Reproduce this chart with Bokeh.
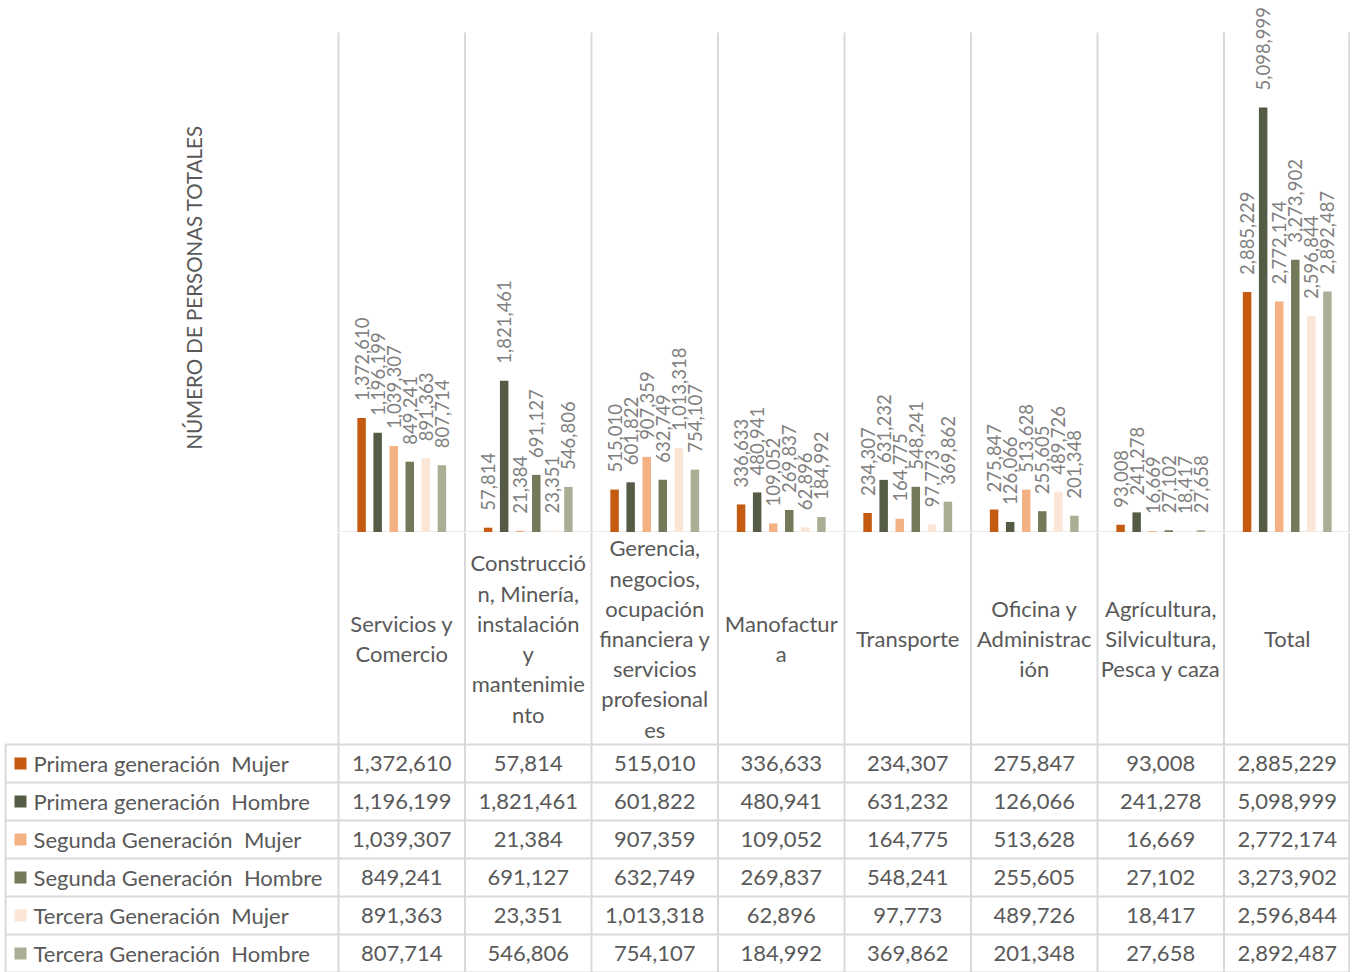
import math
from bokeh.plotting import figure
from bokeh.layouts import column
from bokeh.models import Range1d, ColumnDataSource, Label
from bokeh.core.properties import value
from bokeh.embed import file_html
from bokeh.resources import INLINE

# ---------------- data ----------------
categories = [
    "Servicios y\nComercio",
    "Construcció\nn, Minería,\ninstalación\ny\nmantenimie\nnto",
    "Gerencia,\nnegocios,\nocupación\nfinanciera y\nservicios\nprofesional\nes",
    "Manofactur\na",
    "Transporte",
    "Oficina y\nAdministrac\nión",
    "Agrícultura,\nSilvicultura,\nPesca y caza",
    "Total",
]
series_names = [
    "Primera generación \u00a0Mujer",
    "Primera generación \u00a0Hombre",
    "Segunda Generación \u00a0Mujer",
    "Segunda Generación \u00a0Hombre",
    "Tercera Generación \u00a0Mujer",
    "Tercera Generación \u00a0Hombre",
]
primera_mujer = [1372610, 57814, 515010, 336633, 234307, 275847, 93008, 2885229]
primera_hombre = [1196199, 1821461, 601822, 480941, 631232, 126066, 241278, 5098999]
segunda_mujer = [1039307, 21384, 907359, 109052, 164775, 513628, 16669, 2772174]
segunda_hombre = [849241, 691127, 632749, 269837, 548241, 255605, 27102, 3273902]
tercera_mujer = [891363, 23351, 1013318, 62896, 97773, 489726, 18417, 2596844]
tercera_hombre = [807714, 546806, 754107, 184992, 369862, 201348, 27658, 2892487]
series_values = [primera_mujer, primera_hombre, segunda_mujer,
                 segunda_hombre, tercera_mujer, tercera_hombre]
colors = ["#c55a11", "#555c45", "#f4b183", "#737a5a", "#fbe5d6", "#a9af94"]
y_title = "NÚMERO DE PERSONAS TOTALES"

# ---------------- layout constants ----------------
W = 1350
H1 = 532
H2 = 440
FONT = value("Lato")
GRID = "#d9d9d9"
TXT = "#595959"
LBL = "#808080"
n_cat = len(categories)
x_left = -338 / 126.5    # left edge of the canvas in column units
y_max = 6.383e6          # top of chart canvas in value units
sep_top = 6.0e6          # where column separators start
pitch = 0.127
bar_w = 0.067
lbl_off = 0.204e6

# ---------------- chart figure ----------------
p1 = figure(width=W, height=H1, output_backend="svg", toolbar_location=None,
            x_range=Range1d(x_left, n_cat), y_range=Range1d(0, y_max),
            x_axis_location=None, y_axis_location=None, min_border=0)
p1.outline_line_color = None
p1.grid.visible = False

vx1 = list(range(n_cat)) + [n_cat - 0.01]
p1.segment(x0=vx1, y0=[0] * len(vx1), x1=vx1, y1=[sep_top] * len(vx1),
           line_color=GRID, line_width=2)
p1.segment(x0=[0], y0=[0], x1=[n_cat], y1=[0], line_color=GRID, line_width=2)

for i, (vals, col) in enumerate(zip(series_values, colors)):
    xs = [c + 0.5 + (i - 2.5) * pitch for c in range(n_cat)]
    src = ColumnDataSource(dict(x=xs, top=vals,
                                ly=[v + lbl_off for v in vals],
                                txt=[f"{v:,}" for v in vals]))
    p1.vbar(x="x", top="top", bottom=0, width=bar_w, source=src,
            fill_color=col, line_color=None)
    p1.text(x="x", y="ly", text="txt", source=src, angle=math.pi / 2,
            text_align="left", text_baseline="middle", text_font=FONT,
            text_font_size="18.5px", text_color=LBL)

p1.add_layout(Label(x=-1.146, y=2.94e6, text=y_title, angle=math.pi / 2,
                    text_align="center", text_baseline="middle",
                    text_font="Lato", text_font_size="20.5px", text_color=TXT))

# ---------------- table figure ----------------
header_h = 212
row_h = (H2 - header_h) / len(series_names)
p2 = figure(width=W, height=H2, output_backend="svg", toolbar_location=None,
            x_range=Range1d(x_left, n_cat), y_range=Range1d(H2, 0),
            x_axis_location=None, y_axis_location=None, min_border=0)
p2.outline_line_color = None
p2.grid.visible = False

vx = list(range(n_cat)) + [n_cat - 0.01]
p2.segment(x0=vx, y0=[0] * len(vx), x1=vx, y1=[H2] * len(vx),
           line_color=GRID, line_width=2)
p2.segment(x0=[x_left + 0.04], y0=[header_h], x1=[x_left + 0.04], y1=[H2],
           line_color=GRID, line_width=2)
hy = [header_h + r * row_h for r in range(len(series_names) + 1)]
p2.segment(x0=[x_left + 0.04] * len(hy), y0=hy, x1=[n_cat] * len(hy), y1=hy,
           line_color=GRID, line_width=2)

p2.text(x=[c + 0.5 for c in range(n_cat)], y=[header_h / 2] * n_cat,
        text=categories, text_align="center", text_baseline="middle",
        text_font=FONT, text_font_size="22px", text_color=TXT,
        text_line_height=1.12)

for r, (name, vals, col) in enumerate(zip(series_names, series_values, colors)):
    yc = header_h + (r + 0.5) * row_h
    p2.scatter(x=[x_left + 0.158], y=[yc], marker="square", size=12,
               fill_color=col, line_color=None)
    p2.text(x=[x_left + 0.261], y=[yc], text=[name], text_align="left",
            text_baseline="middle", text_font=FONT, text_font_size="22px",
            text_color=TXT)
    p2.text(x=[c + 0.5 for c in range(n_cat)], y=[yc] * n_cat,
            text=[f"{v:,}" for v in vals], text_align="center",
            text_baseline="middle", text_font=FONT, text_font_size="22px",
            text_color=TXT)

layout = column(p1, p2, spacing=0)
open("out.html", "w").write(file_html(layout, INLINE))
